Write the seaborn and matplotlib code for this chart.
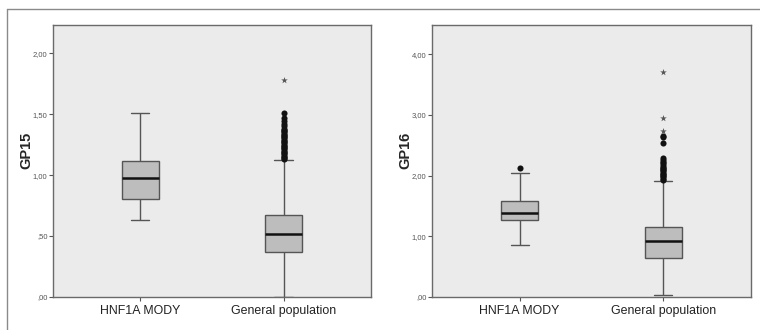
import matplotlib
matplotlib.use("Agg")
import matplotlib.pyplot as plt
import numpy as np
import pandas as pd
import seaborn as sns
from matplotlib.lines import Line2D
from matplotlib.ticker import FuncFormatter, MultipleLocator

groups = ["HNF1A MODY", "General population"]

# five-number summaries: low whisker, Q1, median, Q3, high whisker
gp15_mody = [0.63, 0.805, 0.975, 1.115, 1.51]
gp15_general = [0.0, 0.37, 0.515, 0.673, 1.125]
gp16_mody = [0.857, 1.27, 1.38, 1.586, 2.04]
gp16_general = [0.03, 0.648, 0.918, 1.148, 1.916]

# outliers (circles) and extreme values (stars)
gp15_general_out = [1.13, 1.14, 1.15, 1.16, 1.17, 1.18, 1.19, 1.20, 1.21, 1.22,
                    1.23, 1.24, 1.25, 1.26, 1.27, 1.28, 1.29, 1.30, 1.31, 1.32,
                    1.33, 1.34, 1.35, 1.36, 1.37, 1.38, 1.40, 1.42, 1.44, 1.47, 1.51]
gp15_general_ext = [1.78]
gp16_mody_out = [2.12]
gp16_general_out = [1.93, 1.95, 1.97, 1.99, 2.01, 2.03, 2.05, 2.07, 2.09, 2.11,
                    2.13, 2.15, 2.17, 2.20, 2.23, 2.26, 2.29, 2.53, 2.63, 2.65]
gp16_general_ext = [2.74, 2.95, 3.71]

y_max = [2.23, 4.48]
y_step = [0.5, 1.0]

sns.set_theme(style="white")
plt.rcParams["font.family"] = ["Liberation Sans", "DejaVu Sans"]


def tick_fmt(v, _pos):
    s = f"{v:.2f}".replace(".", ",")
    return s[1:] if s.startswith("0,") else s


def draw_panel(ax, name, mody, general, outs, exts, top, step):
    frame = pd.DataFrame({
        "group": [groups[0]] * len(mody) + [groups[1]] * len(general),
        "value": mody + general,
    })
    sns.boxplot(data=frame, x="group", y="value", order=groups, ax=ax,
                whis=(0, 100), width=0.254, color="#bdbdbd", linecolor="#555555",
                linewidth=1.0, saturation=1,
                medianprops=dict(color="#111111", linewidth=1.8))
    for g, vals in zip(groups, outs):
        if vals:
            sns.stripplot(x=[g] * len(vals), y=vals, order=groups, jitter=False,
                          color="#111111", size=4.4, linewidth=0, ax=ax)
    for g, vals in zip(groups, exts):
        if vals:
            sns.stripplot(x=[g] * len(vals), y=vals, order=groups, jitter=False,
                          color="#555555", marker="*", size=5, linewidth=0, ax=ax)
    ax.set_facecolor("#ebebeb")
    ax.set_xlim(-0.61, 1.61)
    ax.set_ylim(0, top)
    ax.yaxis.set_major_locator(MultipleLocator(step))
    ax.yaxis.set_major_formatter(FuncFormatter(tick_fmt))
    ax.set_xlabel("")
    ax.set_ylabel(name, fontsize=10.5, fontweight="bold")
    ax.yaxis.set_label_coords(-0.062, 0.54)
    ax.tick_params(axis="y", labelsize=5.5, labelcolor="#555555", length=3,
                   width=0.8, color="#555555", pad=1, left=True)
    ax.tick_params(axis="x", labelsize=8.9, labelcolor="#222222", length=3,
                   width=0.8, color="#555555", pad=3, bottom=True)
    for sp in ax.spines.values():
        sp.set_color("#6a6a6a")
        sp.set_linewidth(1.0)


fig = plt.figure(figsize=(7.6, 3.3), dpi=100)
ax1 = fig.add_axes([0.0697, 0.1, 0.4184, 0.824])
ax2 = fig.add_axes([0.5684, 0.1, 0.4197, 0.824])

draw_panel(ax1, "GP15", gp15_mody, gp15_general,
           [[], gp15_general_out], [[], gp15_general_ext], y_max[0], y_step[0])
draw_panel(ax2, "GP16", gp16_mody, gp16_general,
           [gp16_mody_out, gp16_general_out], [[], gp16_general_ext], y_max[1], y_step[1])

# thin frame around the figure, as in the scanned source
fig.add_artist(Line2D([0.009, 1.0], [0.973, 0.973], color="#8a8a8a", lw=1.0))
fig.add_artist(Line2D([0.009, 0.009], [0.0, 0.973], color="#8a8a8a", lw=1.0))

fig.savefig("out.png", dpi=100)
